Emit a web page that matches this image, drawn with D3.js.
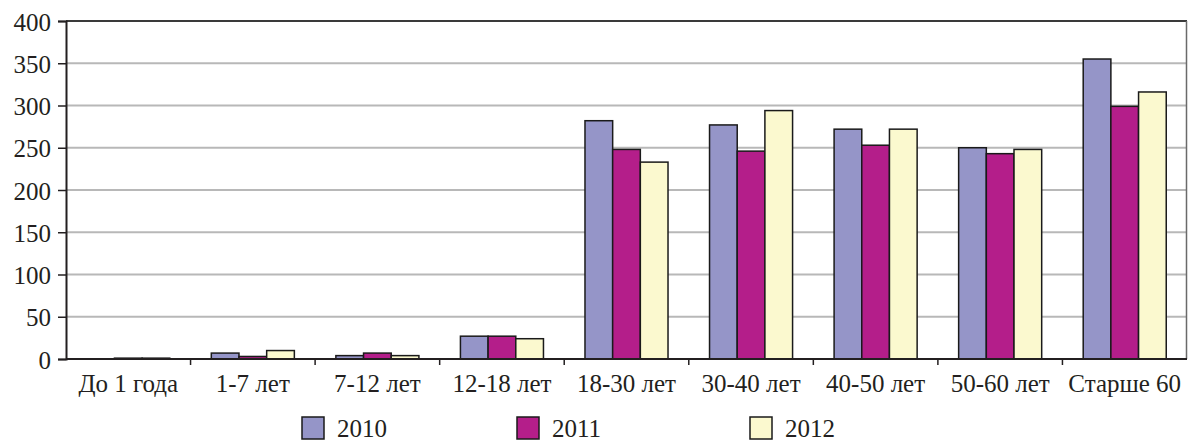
<!DOCTYPE html>
<html>
<head>
<meta charset="utf-8">
<script src="https://cdn.jsdelivr.net/npm/d3@7"></script>
</head>
<body style="margin:0;background:#fff">
<script>
// данные
const categories = ['До 1 года', '1-7 лет', '7-12 лет', '12-18 лет', '18-30 лет', '30-40 лет', '40-50 лет', '50-60 лет', 'Старше 60'];
const years = ['2010', '2011', '2012'];
const values2010 = [0, 7, 4, 27, 282, 277, 272, 250, 355];
const values2011 = [1, 3, 7, 27, 248, 246, 253, 243, 299];
const values2012 = [1, 10, 4, 24, 233, 294, 272, 248, 316];
const yTicks = [0, 50, 100, 150, 200, 250, 300, 350, 400];

const series = [values2010, values2011, values2012];
const colors = ['#9595c8', '#b41e8a', '#fbf9cf'];
const fontFace = '"Liberation Serif", "Times New Roman", monospace';
const ink = '#231f20';

const width = 1188, height = 441;
const margin = { left: 66, top: 21, right: 1, bottom: 82 };

const svg = d3.select('body')
  .append('svg')
    .attr('width', width)
    .attr('height', height);

// общий стиль подписей
function label(sel) {
  sel.attr('font-family', fontFace)
    .style('font-family', fontFace, 'important')
    .attr('font-size', 25)
    .attr('fill', ink);
}

const x = d3.scaleBand()
  .domain(categories)
  .range([margin.left, width - margin.right])
  .padding(0);

// ширина столбца как в Excel (зазор 150%)
const barW = x.step() / (years.length + 1.5);
const xs = d3.scaleBand()
  .domain(years)
  .range([(x.step() - barW * 3) / 2, (x.step() + barW * 3) / 2]);

const y = d3.scaleLinear()
  .domain([0, 400])
  .range([height - margin.bottom, margin.top]);

// сетка
svg.append('g')
  .selectAll('line')
  .data(yTicks.filter(d => d > 0 && d < 400))
  .join('line')
    .attr('x1', margin.left)
    .attr('x2', width - margin.right)
    .attr('y1', d => y(d))
    .attr('y2', d => y(d))
    .attr('stroke', '#b8b8b8')
    .attr('stroke-width', 2);

// рамка сверху и справа
svg.append('line')
  .attr('x1', margin.left).attr('x2', width - margin.right)
  .attr('y1', y(400)).attr('y2', y(400))
  .attr('stroke', '#3a3a3a').attr('stroke-width', 2);
svg.append('line')
  .attr('x1', width - margin.right - 0.5).attr('x2', width - margin.right - 0.5)
  .attr('y1', y(400)).attr('y2', y(0))
  .attr('stroke', '#6a6a6a').attr('stroke-width', 1.5);

// столбцы
const groups = svg.append('g')
  .selectAll('g')
  .data(series)
  .join('g')
    .attr('fill', (d, i) => colors[i]);

groups.selectAll('rect')
  .data((d, i) => d.map((v, j) => ({ v, cat: categories[j], year: years[i] })))
  .join('rect')
    .attr('x', d => x(d.cat) + xs(d.year))
    .attr('width', xs.bandwidth())
    .attr('y', d => y(d.v))
    .attr('height', d => y(0) - y(d.v))
    .attr('stroke', '#1a1a1a')
    .attr('stroke-width', 1.5)
    .attr('display', d => d.v > 0 ? null : 'none');

// ось Y
const yAxis = svg.append('g')
  .attr('transform', `translate(${margin.left},0)`)
  .call(d3.axisLeft(y).tickValues(yTicks).tickSize(8).tickPadding(7).tickFormat(d3.format('d')));
yAxis.select('.domain').attr('stroke', ink).attr('stroke-width', 2);
yAxis.selectAll('.tick line').attr('stroke', ink).attr('stroke-width', 1.5);
yAxis.selectAll('text')
  .call(label)
  .attr('dy', '0.36em');

// ось X
const xAxis = svg.append('g')
  .attr('transform', `translate(0,${y(0)})`);
xAxis.append('line')
  .attr('x1', margin.left).attr('x2', width - margin.right)
  .attr('stroke', ink).attr('stroke-width', 2);
xAxis.selectAll('.tk')
  .data(categories.slice(1))
  .join('line')
    .attr('class', 'tk')
    .attr('x1', d => x(d)).attr('x2', d => x(d))
    .attr('y1', 0).attr('y2', 6)
    .attr('stroke', ink).attr('stroke-width', 1.5);
xAxis.selectAll('text')
  .data(categories)
  .join('text')
    .attr('x', d => x(d) + x.bandwidth() / 2)
    .attr('y', 33)
    .attr('text-anchor', 'middle')
    .call(label)
    .text(d => d);

// легенда
const legendX = [302, 517, 750];
const legend = svg.append('g')
  .selectAll('g')
  .data(years)
  .join('g')
    .attr('transform', (d, i) => `translate(${legendX[i]},417)`);
legend.append('rect')
  .attr('width', 22).attr('height', 22)
  .attr('fill', (d, i) => colors[i])
  .attr('stroke', '#1a1a1a').attr('stroke-width', 1.5);
legend.append('text')
  .attr('x', 35).attr('y', 20)
  .call(label)
  .text(d => d);
</script>
</body>
</html>
